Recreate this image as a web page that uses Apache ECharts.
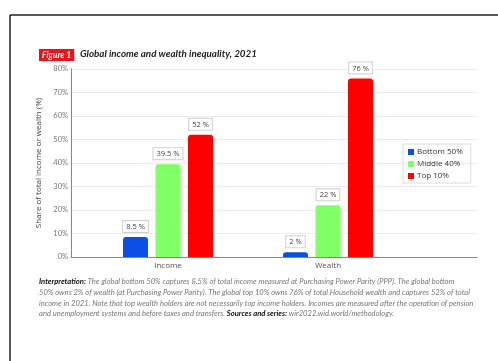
<!DOCTYPE html>
<html><head><meta charset="utf-8">
<script src="https://cdn.jsdelivr.net/npm/echarts@6/dist/echarts.min.js"></script>
<style>html,body{margin:0;padding:0;background:#fff}#c{width:498px;height:361px}</style>
</head><body><div id="c"></div>
<script>
const categories = ['Income', 'Wealth'];
const bottom50 = [8.5, 2];
const middle40 = [39.5, 22];
const top10 = [52, 76];
const seriesNames = ['Bottom 50%', 'Middle 40%', 'Top 10%'];
const yTicks = [0, 10, 20, 30, 40, 50, 60, 70, 80];

const colors = ['#0b50e6', '#80ff66', '#ff0000'];
const chart = echarts.init(document.getElementById('c'), null, {renderer: 'canvas'});
const gTop = 69, gBottom = 104;
const lbl = {
  show: true, position: 'top', distance: 5, formatter: '{c} %',
  backgroundColor: '#fff', borderColor: '#cfcfcf', borderWidth: 1, padding: [2, 3, 1, 3],
  fontSize: 7.5, color: '#444', fontFamily: 'Open Sans'
};
function bar(name, data, i) {
  return {
    name: name, type: 'bar', xAxisIndex: 1, yAxisIndex: 1, data: data,
    barWidth: 25, barGap: '30%',
    itemStyle: {color: colors[i], borderRadius: [3, 3, 0, 0]},
    label: lbl
  };
}
const lines = [
  [{t: 'Interpretation:', s: 'b'}, {t: ' The global bottom 50% captures 8.5% of total income measured at Purchasing Power Parity (PPP). The global bottom', s: 'i'}],
  [{t: '50% owns 2% of wealth (at Purchasing Power Parity). The global top 10% owns 76% of total Household wealth and captures 52% of total', s: 'i'}],
  [{t: 'income in 2021. Note that top wealth holders are not necessarily top income holders. Incomes are measured after the operation of pension', s: 'i'}],
  [{t: 'and unemployment systems and before taxes and transfers. ', s: 'i'}, {t: 'Sources and series:', s: 'b'}, {t: ' wir2022.wid.world/methodology.', s: 'i'}]
];
const foot = lines.map((ln, k) => ({
  type: 'text', left: 39, top: 278 + k * 10.6,
  style: {
    text: ln.map(p => '{' + p.s + '|' + p.t + '}').join(''),
    rich: {
      b: {fontFamily: 'Lato', fontWeight: 'bold', fontStyle: 'italic', fontSize: 7.6, fill: '#111', color: '#111'},
      i: {fontFamily: 'Lato', fontStyle: 'italic', fontSize: 7.6, fill: '#777', color: '#777'}
    }
  }
}));
chart.setOption({
  animation: false,
  grid: [
    {left: 71, right: 21, top: gTop, bottom: gBottom},
    {left: 88, width: 320, top: gTop, bottom: gBottom}
  ],
  xAxis: [
    {gridIndex: 0, type: 'category', data: [''], axisLine: {lineStyle: {color: '#888'}}, axisTick: {show: false}, axisLabel: {show: false}},
    {gridIndex: 1, type: 'category', data: categories, axisLine: {show: false}, axisTick: {show: false},
     axisLabel: {fontSize: 8, color: '#555', fontFamily: 'Open Sans', margin: 5}}
  ],
  yAxis: [
    {gridIndex: 0, type: 'value', min: yTicks[0], max: yTicks[yTicks.length - 1], interval: 10,
     axisLine: {show: true, lineStyle: {color: '#888'}}, axisTick: {show: false},
     axisLabel: {formatter: '{value}%', fontSize: 7.5, color: '#777', fontFamily: 'Lato', margin: 3},
     splitLine: {lineStyle: {color: '#ececec'}},
     name: 'Share of total income or wealth (%)', nameLocation: 'middle', nameGap: 21,
     nameTextStyle: {fontSize: 8, color: '#444', fontFamily: 'Open Sans'}},
    {gridIndex: 1, type: 'value', min: 0, max: 80, show: false}
  ],
  legend: {
    data: seriesNames, orient: 'vertical', left: 403, top: 144,
    itemWidth: 6, itemHeight: 6, itemGap: 4, icon: 'rect',
    textStyle: {fontSize: 8, color: '#333', fontFamily: 'Open Sans', padding: [0, 0, 0, -2]},
    borderColor: '#dcdcdc', borderWidth: 1, padding: [4, 8, 3, 5]
  },
  series: [bar(seriesNames[0], bottom50, 0), bar(seriesNames[1], middle40, 1), bar(seriesNames[2], top10, 2)],
  graphic: [
    {type: 'line', shape: {x1: 10, y1: 15, x2: 498, y2: 15}, style: {stroke: '#222', lineWidth: 1.5}},
    {type: 'line', shape: {x1: 10, y1: 15, x2: 10, y2: 361}, style: {stroke: '#222', lineWidth: 1.5}},
    {type: 'text', left: 39, top: 49, style: {
      text: 'Figure 1', fill: '#fff', backgroundColor: '#e8141b', padding: [2, 3, 1, 3],
      fontFamily: 'Lato', fontWeight: 'bold', fontStyle: 'italic', fontSize: 8.5}},
    {type: 'text', left: 80, top: 49, style: {
      text: 'Global income and wealth inequality, 2021', fill: '#222',
      fontFamily: 'Lato', fontWeight: 'bold', fontStyle: 'italic', fontSize: 9.8}}
  ].concat(foot)
});
</script></body></html>
